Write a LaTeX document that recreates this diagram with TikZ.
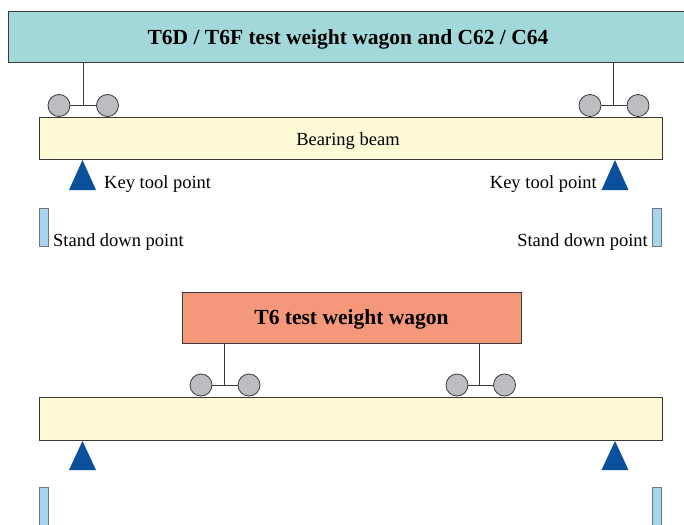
\documentclass[tikz,border=0pt]{standalone}
\usepackage{fontspec}
\setmainfont{Liberation Serif}
\usepackage{tikz}
\usetikzlibrary{positioning}
\definecolor{rim}{HTML}{3A3A3A}
\definecolor{tealbox}{HTML}{A3D8DA}
\definecolor{salmonbox}{HTML}{F5977B}
\definecolor{beamfill}{HTML}{FFF9D6}
\definecolor{wheelgray}{HTML}{BCBDC0}
\definecolor{keyblue}{HTML}{0A509D}
\definecolor{standblue}{HTML}{A7D4EE}

\begin{document}
\begin{tikzpicture}[
  x=1pt, y=-1pt,
  body/.style={rectangle, draw=rim, line width=1pt, inner sep=0pt,
    minimum height=51pt, text depth=0pt, font=\fontsize{21.5}{24}\selectfont\bfseries},
  beam/.style={rectangle, draw=rim, line width=1pt, fill=beamfill, inner sep=0pt,
    minimum width=623pt},
  wheel/.style={circle, draw=rim, line width=0.8pt, fill=wheelgray,
    minimum size=22pt, inner sep=0pt},
  hanger/.style={draw=rim, line width=0.8pt},
  keytip/.style={fill=keyblue},
  stand/.style={rectangle, draw=rim!70, line width=0.8pt, fill=standblue,
    minimum width=9pt, inner sep=0pt},
  tag/.style={inner sep=0pt, font=\fontsize{18.5}{22}\selectfont}
]
\clip (0,0) rectangle (684,524);

% upper load case
\node[body, fill=tealbox, minimum width=680pt] (upwagon) at (348,37.5)
  {T6D / T6F test weight wagon and C62 / C64};
\node[beam, minimum height=42pt] (upbeam) at (350.5,138) {};
\node[tag, anchor=base] (beamtag) at (348,145) {Bearing beam};
\node[wheel] (uw1) at (59,105.5) {};
\node[wheel] (uw2) at (107.5,105.5) {};
\node[wheel] (uw3) at (590,105.5) {};
\node[wheel] (uw4) at (638,105.5) {};
\coordinate (uax1) at (83,105.5);
\coordinate (uax2) at (613,105.5);
\draw[hanger] (uw1) -- (uw2);
\draw[hanger] (uw3) -- (uw4);
\draw[hanger] (upwagon.south -| uax1) -- (uax1);
\draw[hanger] (upwagon.south -| uax2) -- (uax2);
\fill[keytip] (69,190) -- (82.5,160) -- (96,190) -- cycle;
\fill[keytip] (601.5,190) -- (615,160) -- (628.5,190) -- cycle;
\node[tag, anchor=base west] (ukey1) at (104,188) {Key tool point};
\node[tag, anchor=base east] (ukey2) at (597,188) {Key tool point};
\node[stand, minimum height=38pt] (ustand1) at (43.5,227) {};
\node[stand, minimum height=38pt] (ustand2) at (656.5,227) {};
\node[tag, anchor=base west] (udown1) at (53,246) {Stand down point};
\node[tag, anchor=base east] (udown2) at (648,246) {Stand down point};

% lower load case
\node[body, fill=salmonbox, minimum width=339pt] (lowagon) at (351.5,317.5)
  {T6 test weight wagon};
\node[beam, minimum height=43pt] (lobeam) at (350.5,418.5) {};
\node[wheel] (lw1) at (201,385) {};
\node[wheel] (lw2) at (249,385) {};
\node[wheel] (lw3) at (457,385) {};
\node[wheel] (lw4) at (504.5,385) {};
\coordinate (lax1) at (224,385);
\coordinate (lax2) at (479,385);
\draw[hanger] (lw1) -- (lw2);
\draw[hanger] (lw3) -- (lw4);
\draw[hanger] (lowagon.south -| lax1) -- (lax1);
\draw[hanger] (lowagon.south -| lax2) -- (lax2);
\fill[keytip] (69,470) -- (82.5,441) -- (96,470) -- cycle;
\fill[keytip] (601.5,470) -- (615,441) -- (628.5,470) -- cycle;
\node[stand, minimum height=43pt] (lstand1) at (43.5,508.5) {};
\node[stand, minimum height=43pt] (lstand2) at (656.5,508.5) {};
\end{tikzpicture}
\end{document}
